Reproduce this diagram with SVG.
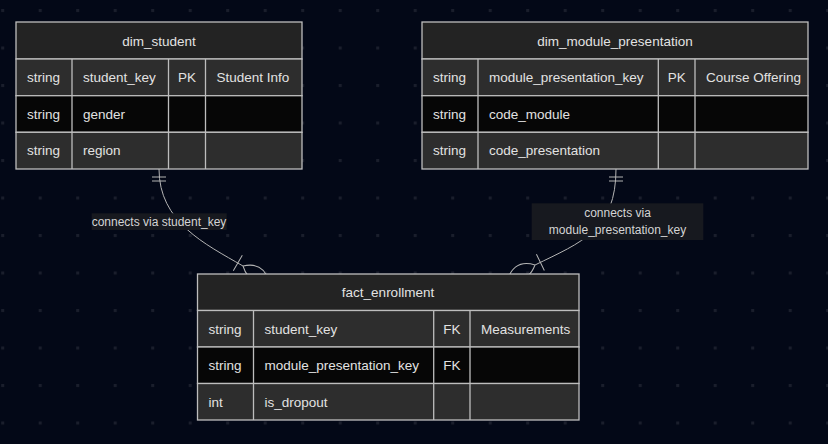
<svg xmlns="http://www.w3.org/2000/svg" width="828" height="444" viewBox="0 0 828 444">
<style>
.hdr{fill:#232323;stroke:#bdbdbd;stroke-width:1.3}
.ra{fill:#2d2d2d;stroke:#bdbdbd;stroke-width:1.3}
.rb{fill:#060606;stroke:#bdbdbd;stroke-width:1.3}
.cl{stroke:#bdbdbd;stroke-width:1.3}
text{font-family:"Liberation Sans",Arial,sans-serif;font-size:13.5px;fill:#e2e2e2;dominant-baseline:central}
.c{text-anchor:middle}
.lbl{font-size:12px;fill:#d4d4d4;text-anchor:middle}
.edge{fill:none;stroke:#b4b4b4;stroke-width:1}
.lblbg{fill:#17191f}
</style>
<defs>
<pattern id="dots" width="37.5" height="37.5" patternUnits="userSpaceOnUse" x="1.2" y="9">
<rect width="3" height="3" fill="#1a1e2c"/>
</pattern>
<marker id="one" markerUnits="userSpaceOnUse" refX="0" refY="9" markerWidth="20" markerHeight="18" orient="auto">
<path d="M8,2 L8,16 M12,2 L12,16" fill="none" stroke="#b4b4b4" stroke-width="1"/>
</marker>
<marker id="many" markerUnits="userSpaceOnUse" refX="10" refY="18" markerWidth="50" markerHeight="36" orient="auto">
<path d="M4,9 L4,27 M10,18 Q25,4 40,18 Q25,32 10,18" fill="none" stroke="#b4b4b4" stroke-width="1"/>
</marker>
</defs>
<rect width="828" height="444" fill="#030817"/>
<rect width="828" height="444" fill="url(#dots)"/>

<g id="connectors">
<path class="edge" d="M159,169 C159,222 205,244 243,266" marker-start="url(#one)" marker-end="url(#many)"/>
<path class="edge" d="M616,169 C616,230 582,242 535,265" marker-start="url(#one)" marker-end="url(#many)"/>
<rect class="lblbg" x="91.7" y="213.3" width="135" height="16.7"/>
<text class="lbl" x="159" y="221.7">connects via student_key</text>
<rect class="lblbg" x="531.7" y="203.3" width="171.6" height="36.7"/>
<text class="lbl" x="617.5" y="213.3">connects via</text>
<text class="lbl" x="617.5" y="230">module_presentation_key</text>
</g>

<g id="dim_student">
<rect class="hdr" x="16" y="22" width="286" height="37"/>
<rect class="ra" x="16" y="59" width="286" height="36.7"/>
<rect class="rb" x="16" y="95.7" width="286" height="36.6"/>
<rect class="ra" x="16" y="132.3" width="286" height="36.7"/>
<path class="cl" d="M72,59 V169 M168.5,59 V169 M205.5,59 V169"/>
<text class="c" x="159" y="41">dim_student</text>
<text x="27" y="77.5">string</text><text x="83" y="77.5">student_key</text><text class="c" x="187" y="77.5">PK</text><text x="216.5" y="77.5">Student Info</text>
<text x="27" y="114">string</text><text x="83" y="114">gender</text>
<text x="27" y="150.6">string</text><text x="83" y="150.6">region</text>
</g>

<g id="dim_module_presentation">
<rect class="hdr" x="422" y="22" width="386" height="37"/>
<rect class="ra" x="422" y="59" width="386" height="36.7"/>
<rect class="rb" x="422" y="95.7" width="386" height="36.6"/>
<rect class="ra" x="422" y="132.3" width="386" height="36.7"/>
<path class="cl" d="M478,59 V169 M658.3,59 V169 M695,59 V169"/>
<text class="c" x="615" y="41">dim_module_presentation</text>
<text x="433" y="77.5">string</text><text x="489" y="77.5">module_presentation_key</text><text class="c" x="676.7" y="77.5">PK</text><text x="706" y="77.5">Course Offering</text>
<text x="433" y="114">string</text><text x="489" y="114">code_module</text>
<text x="433" y="150.6">string</text><text x="489" y="150.6">code_presentation</text>
</g>

<g id="fact_enrollment">
<rect class="hdr" x="197.5" y="274" width="381.5" height="36.5"/>
<rect class="ra" x="197.5" y="310.5" width="381.5" height="36.5"/>
<rect class="rb" x="197.5" y="347" width="381.5" height="36.5"/>
<rect class="ra" x="197.5" y="383.5" width="381.5" height="36.5"/>
<path class="cl" d="M253.5,310.5 V420 M433.7,310.5 V420 M470,310.5 V420"/>
<text class="c" x="388" y="292.5">fact_enrollment</text>
<text x="208.5" y="329">string</text><text x="264.5" y="329">student_key</text><text class="c" x="451.8" y="329">FK</text><text x="481" y="329">Measurements</text>
<text x="208.5" y="365.5">string</text><text x="264.5" y="365.5">module_presentation_key</text><text class="c" x="451.8" y="365.5">FK</text>
<text x="208.5" y="402">int</text><text x="264.5" y="402">is_dropout</text>
</g>
</svg>
